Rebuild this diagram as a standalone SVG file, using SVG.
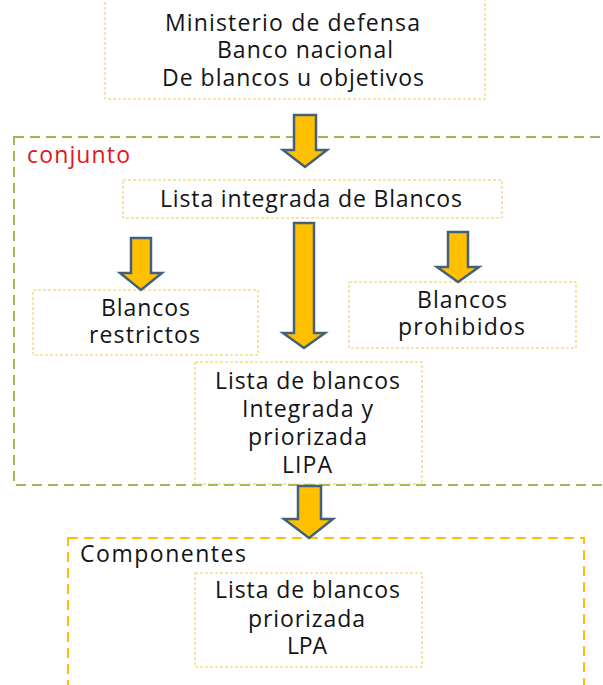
<svg xmlns="http://www.w3.org/2000/svg" width="603" height="685" viewBox="0 0 603 685">
<style>
.bg{fill:#ffffff}
.box{fill:#ffffff;stroke:#F2C94C;stroke-width:1;stroke-dasharray:3 2}
.grp{fill:none;stroke:#9BBB59;stroke-width:2;stroke-dasharray:10 6}
.grpY{fill:none;stroke:#FFC000;stroke-width:2;stroke-dasharray:10 6}
.arr{fill:#FFC000;stroke:#44607C;stroke-width:2.5;stroke-linejoin:miter}
text{font-family:"Open Sans","Noto Sans","DejaVu Sans",sans-serif;font-size:23px;fill:#141414}
.c{text-anchor:middle}
.red{fill:#E3161B}
</style>
<rect class="bg" x="0" y="0" width="603" height="685"/>
<g id="conjunto">
<rect class="grp" x="14" y="137" width="600" height="348"/>
<text x="27" y="163" class="red" textLength="103" lengthAdjust="spacing">conjunto</text>
</g>
<g id="componentes">
<rect class="grpY" x="68" y="538" width="516" height="160"/>
<text x="80" y="562" textLength="166" lengthAdjust="spacing">Componentes</text>
</g>
<g id="ministerio">
<rect class="box" x="105" y="-2" width="380" height="101"/>
<text x="165" y="31" textLength="255" lengthAdjust="spacing">Ministerio de defensa</text>
<text x="217" y="58" textLength="176" lengthAdjust="spacing">Banco nacional</text>
<text x="162" y="86" textLength="262" lengthAdjust="spacing">De blancos u objetivos</text>
</g>
<g id="lista-integrada">
<rect class="box" x="123" y="180" width="379" height="38"/>
<text x="160" y="207" textLength="302" lengthAdjust="spacing">Lista integrada de Blancos</text>
</g>
<g id="restrictos">
<rect class="box" x="33" y="290" width="225" height="65"/>
<text x="101" y="316" textLength="89" lengthAdjust="spacing">Blancos</text>
<text x="89" y="343" textLength="111" lengthAdjust="spacing">restrictos</text>
</g>
<g id="prohibidos">
<rect class="box" x="349" y="282" width="227" height="66"/>
<text x="417" y="308" textLength="90" lengthAdjust="spacing">Blancos</text>
<text x="398" y="335" textLength="127" lengthAdjust="spacing">prohibidos</text>
</g>
<g id="lipa">
<rect class="box" x="195" y="362" width="227" height="122"/>
<text x="215" y="389" textLength="185" lengthAdjust="spacing">Lista de blancos</text>
<text x="242" y="417" textLength="131" lengthAdjust="spacing">Integrada y</text>
<text x="248" y="445" textLength="119" lengthAdjust="spacing">priorizada</text>
<text x="282" y="473" textLength="50" lengthAdjust="spacing">LIPA</text>
</g>
<g id="lpa">
<rect class="box" x="195" y="573" width="227" height="94"/>
<text x="215" y="598" textLength="185" lengthAdjust="spacing">Lista de blancos</text>
<text x="248" y="627" textLength="117" lengthAdjust="spacing">priorizada</text>
<text x="287" y="654" textLength="40" lengthAdjust="spacing">LPA</text>
</g>
<g id="connectors">
<path class="arr" d="M294,115 H316 V150 H327 L305,167 L283,150 H294 Z"/>
<path class="arr" d="M294,223 H314 V333 H325 L304,348 L283,333 H294 Z"/>
<path class="arr" d="M131,238 H151 V273 H162 L141,290 L120,273 H131 Z"/>
<path class="arr" d="M448,232 H468 V267 H479 L458,282 L437,267 H448 Z"/>
<path class="arr" d="M298,486 H321 V519 H333 L309,538 L284,519 H298 Z"/>
</g>
</svg>
